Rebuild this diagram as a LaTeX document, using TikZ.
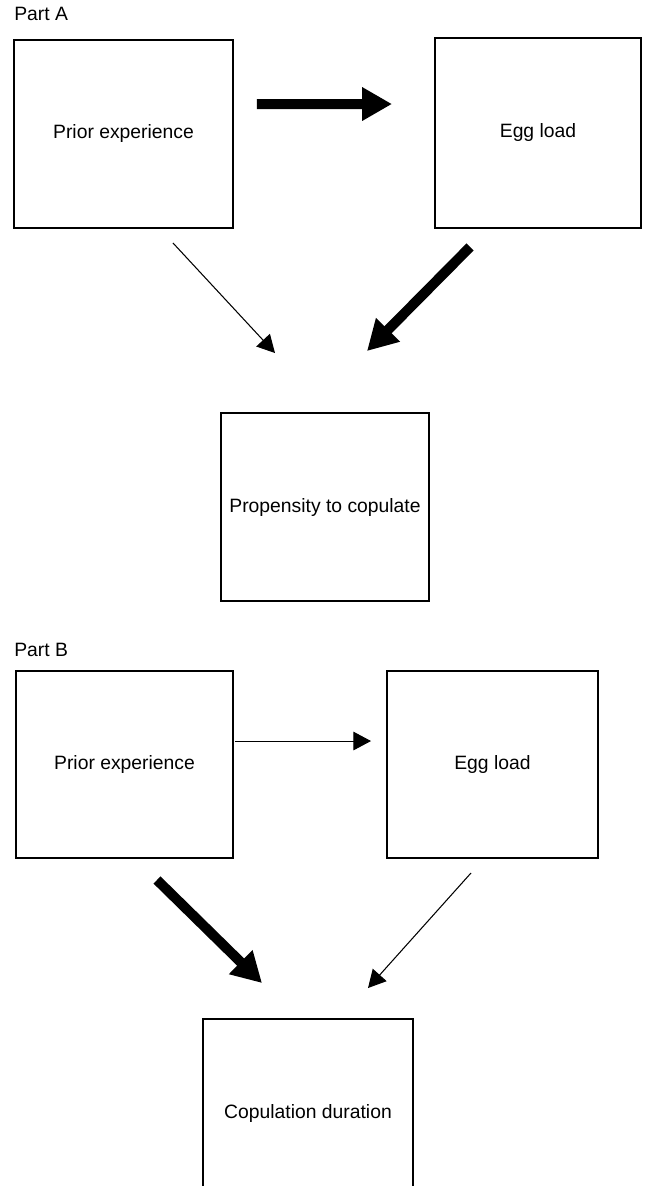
\documentclass[tikz,border=0pt]{standalone}
\usepackage{fontspec}
\setmainfont{Liberation Sans}
\usetikzlibrary{arrows.meta,calc}

\begin{document}
\begin{tikzpicture}[x=0.02cm, y=-0.02cm,
        box/.style={draw, line width=0.8pt, inner sep=0pt, outer sep=0pt, font=\fontsize{11}{13}\selectfont},
        thinarr/.style={line width=0.6pt, -{Triangle[length=10pt, width=10.5pt]}},
        thickarr/.style={line width=5.7pt, -{Triangle[length=17pt, width=18pt]}}]
        \useasboundingbox (0,0) rectangle (646,1186);

        % Part A
        \node[anchor=west, inner sep=0pt, font=\fontsize{11}{13}\selectfont] (labA) at (14,14) {Part A};
        \node[box, minimum width=4.38cm, minimum height=3.76cm] (pA) at (123.5,134) {Prior experience};
        \node[box, minimum width=4.12cm, minimum height=3.8cm] (eA) at (538,133) {Egg load};
        \node[box, minimum width=4.16cm, minimum height=3.76cm] (cA) at (325,507) {Propensity to copulate};

        \draw[thickarr] ($(pA.north east)+(24,64)$) -- ($(eA.north west)+(-43,66)$);
        \draw[thinarr] ($(pA.south east)+(-60,15)$) -- ($(cA.north)+(-50,-60)$);
        \draw[thickarr] ($(eA.south west)+(35,19)$) -- ($(cA.north)+(42,-62)$);

        % Part B
        \node[anchor=west, inner sep=0pt, font=\fontsize{11}{13}\selectfont] (labB) at (14,650) {Part B};
        \node[box, minimum width=4.34cm, minimum height=3.74cm] (pB) at (124.5,764.5) {Prior experience};
        \node[box, minimum width=4.22cm, minimum height=3.74cm] (eB) at (492.5,764.5) {Egg load};
        \node[box, minimum width=4.2cm, minimum height=3.76cm] (cB) at (308,1113) {Copulation duration};

        \draw[thinarr] ($(pB.north east)+(2,70)$) -- ($(eB.north west)+(-16,70)$);
        \draw[thickarr] ($(pB.south)+(32.5,22)$) -- ($(cB.north)+(-46,-36)$);
        \draw[thinarr] ($(eB.south)+(-21.5,15)$) -- ($(cB.north)+(60,-31)$);
\end{tikzpicture}
\end{document}
